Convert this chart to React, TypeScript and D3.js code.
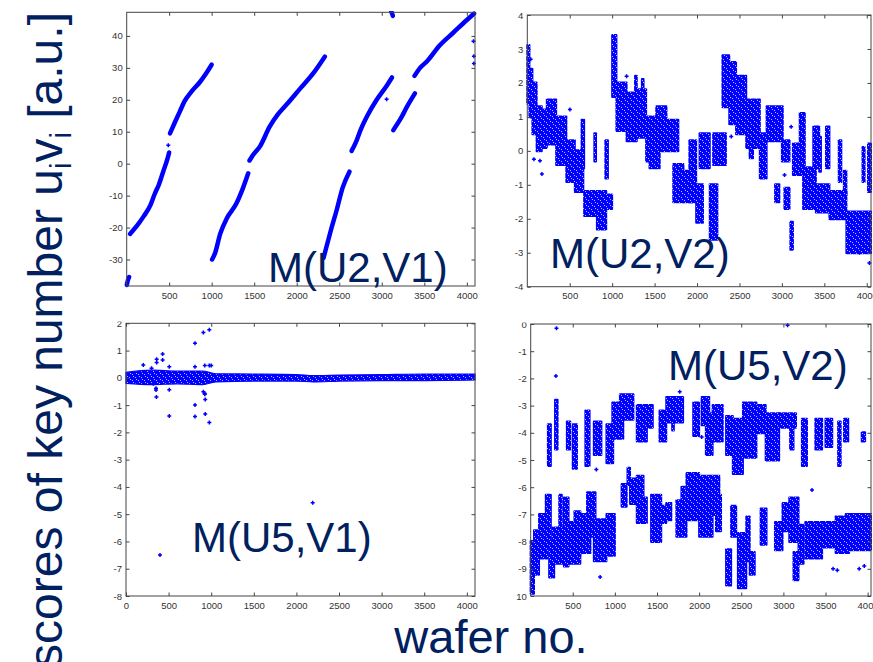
import React, { useEffect, useRef } from 'react';
import * as d3 from 'd3';

const W = 873;
const H = 662;
const NAVY = '#002060';
const BLUE = '#0000ff';
const AXIS = '#444444';
const TICK_TEXT = '#333333';

type Pt = [number, number];
// [xStart, xEnd, yLow, yHigh] : a column of densely packed wafer scores
type Streak = [number, number, number, number];

// ---------- M(U2,V1): ramps of scores vs wafer no. ----------
const u2v1Ramps: Pt[][] = [
  [[2, -38], [15, -36.5], [30, -35.5]],
  [[40, -22], [120, -19.5], [200, -16.5], [280, -13], [330, -9.5], [380, -6.5], [430, -2.5], [480, 1.5], [500, 3.5]],
  [[510, 9.5], [560, 12.5], [620, 16], [680, 19.5], [760, 22.5], [860, 25.5], [940, 28.5], [1000, 31]],
  [[1005, -30], [1040, -28], [1100, -22], [1180, -17], [1290, -12.5], [1370, -7.5], [1430, -3]],
  [[1445, 1], [1480, 2.5], [1570, 5.5], [1680, 11.5], [1780, 15.5], [1880, 18.5], [2040, 23.5], [2200, 28.5], [2330, 33.5]],
  [[2315, -29.5], [2360, -25], [2400, -21], [2470, -14.5], [2540, -7.5], [2620, -2.5]],
  [[2645, 4], [2700, 7], [2750, 10.5], [2830, 15], [2940, 20], [3060, 24.5], [3120, 27]],
  [[3110, 47.8], [3130, 46.3]],
  [[3135, 10.5], [3220, 14], [3300, 18], [3390, 22]],
  [[3385, 27.5], [3450, 30], [3530, 32], [3680, 37], [3840, 41], [4000, 45], [4085, 47]],
];
const u2v1Single: Pt[] = [[490, 5.8], [3057, 20.2], [4078, 38.3], [4083, 33.6], [4083, 31.4]];

// ---------- M(U2,V2) ----------
const u2v2Streaks: Streak[] = [
  [0, 25, 1.4, 3.1], [25, 60, 1.0, 2.4], [60, 110, 0.5, 2.0], [110, 170, 0.0, 1.3],
  [170, 230, 0.1, 1.2], [230, 340, 0.2, 1.5], [340, 460, -0.4, 1.0], [460, 560, -0.9, 0.3],
  [560, 660, -1.2, 0.0], [640, 670, -0.5, 0.9], [670, 820, -1.9, -1.2], [790, 810, -0.3, 0.5],
  [820, 930, -2.3, -1.2], [920, 950, -0.8, 0.3], [950, 1000, -1.7, -1.3],
  [1000, 1050, 1.6, 3.4], [1050, 1170, 0.6, 2.0], [1170, 1290, 0.3, 1.7], [1270, 1290, 1.4, 2.2],
  [1290, 1400, 0.4, 1.8], [1350, 1370, 1.5, 2.1], [1400, 1520, -0.3, 1.0], [1440, 1560, -0.5, 0.3],
  [1520, 1640, 0.0, 1.3], [1640, 1780, 0.0, 0.9], [1720, 1840, -1.5, -0.4], [1840, 1950, -1.5, -0.6],
  [1910, 1990, -1.5, 0.3], [1990, 2070, -2.1, -1.0], [2030, 2150, -0.5, 0.5], [2150, 2240, -2.6, -1.0],
  [2190, 2340, -0.4, 0.5],
  [2300, 2380, 1.3, 2.8], [2380, 2460, 0.8, 2.6], [2460, 2580, 0.5, 2.2], [2580, 2740, 0.1, 1.5],
  [2620, 2660, -0.2, 0.5], [2740, 2820, -0.8, 0.5], [2820, 3010, 0.3, 1.3], [2920, 2970, -1.5, -1.0],
  [3000, 3090, -0.3, 0.3], [3030, 3090, -1.7, -1.1], [3100, 3130, -2.9, -2.1], [3130, 3250, -0.7, 0.2],
  [3210, 3270, -0.5, 1.1], [3250, 3400, -1.7, -0.5], [3370, 3440, -0.5, 0.7], [3400, 3560, -1.8, -1.0],
  [3440, 3460, -0.6, 0.4], [3520, 3560, -0.5, 0.7], [3560, 3760, -2.0, -1.2], [3670, 3700, -0.9, 0.3],
  [3730, 3760, -1.3, -0.6], [3760, 4050, -3.0, -1.8], [3950, 3975, -0.9, 0.1], [4015, 4050, -1.2, 0.2],
];
const u2v2Single: Pt[] = [
  [40, 2.7], [78, -0.25], [149, -0.29], [172, -0.68], [502, 1.22], [1170, 2.2], [2500, 2.1],
  [2403, 0.42], [3109, 0.71], [3031, -0.71], [3913, -3.0], [4031, -3.3],
];

// ---------- M(U5,V1) ----------
const u5v1BandX = [0, 300, 600, 900, 1050, 1500, 2000, 2200, 2500, 3000, 3500, 4096];
const u5v1BandLo = [-0.2, -0.25, -0.22, -0.25, -0.15, -0.12, -0.12, -0.15, -0.12, -0.1, -0.1, -0.08];
const u5v1BandHi = [0.2, 0.28, 0.25, 0.25, 0.15, 0.14, 0.12, 0.08, 0.1, 0.12, 0.14, 0.14];
const u5v1Single: Pt[] = [
  [203, 0.47], [300, 0.35], [320, -0.22], [360, 0.68], [360, 0.56], [352, -0.38], [352, -0.45], [357, -0.7],
  [430, 0.87], [430, 0.65], [508, 0.41], [508, -0.44], [508, -1.4], [810, 1.27], [810, 0.41], [810, -1.0],
  [810, -1.42], [908, 1.66], [908, -0.51], [925, -0.57], [925, -0.6], [930, -0.79], [930, -1.33],
  [978, 1.76], [925, 0.45], [978, 0.45], [1000, 0.45], [978, -1.64], [399, -6.5], [2191, -4.58],
];

// ---------- M(U5,V2) ----------
const u5v2Streaks: Streak[] = [
  [205, 240, -5.2, -3.7], [290, 320, -4.6, -2.8], [430, 470, -4.6, -3.6], [500, 550, -5.3, -3.7],
  [650, 700, -5.2, -3.2], [750, 840, -4.8, -3.6], [900, 980, -5.1, -3.7], [970, 1100, -4.2, -2.9],
  [1060, 1220, -3.5, -2.6], [1260, 1380, -4.3, -3.0], [1380, 1450, -3.8, -3.0], [1530, 1610, -4.3, -3.2],
  [1610, 1810, -3.6, -2.7], [1680, 1700, -3.9, -3.0], [1930, 2000, -4.1, -2.9], [2030, 2120, -3.7, -2.7],
  [2080, 2160, -4.8, -3.3], [2160, 2280, -4.3, -3.0], [2320, 2400, -4.8, -3.4], [2400, 2520, -5.5, -3.5],
  [2520, 2680, -4.9, -2.9], [2680, 2790, -4.0, -3.0], [2790, 2950, -5.0, -3.3], [2950, 3150, -3.8, -3.3],
  [3080, 3120, -4.6, -3.4], [3220, 3280, -5.2, -3.5], [3380, 3460, -4.6, -3.5], [3500, 3580, -4.5, -3.5],
  [3650, 3680, -5.2, -3.6], [3720, 3770, -4.3, -3.5], [3930, 3970, -4.3, -4.0],
  [0, 40, -9.9, -8.0], [40, 100, -9.2, -7.6], [100, 200, -8.6, -7.0], [180, 240, -8.2, -6.3],
  [220, 280, -9.3, -8.0], [260, 380, -8.8, -7.5], [340, 370, -8.1, -6.3], [395, 450, -8.9, -6.4],
  [450, 590, -8.8, -7.3], [520, 590, -8.5, -6.9], [590, 710, -8.4, -7.0], [670, 770, -7.8, -6.2],
  [750, 900, -8.7, -7.2], [900, 1000, -8.5, -7.0], [1080, 1140, -6.7, -5.9], [1150, 1180, -5.9, -5.3],
  [1180, 1260, -6.6, -5.7], [1260, 1340, -7.3, -5.6], [1340, 1380, -7.3, -6.4], [1430, 1550, -8.0, -6.3],
  [1490, 1610, -7.3, -6.7], [1610, 1670, -7.2, -6.6], [1730, 1850, -7.8, -6.5], [1790, 1830, -7.7, -6.0],
  [1850, 2000, -7.2, -5.5], [2000, 2160, -7.8, -5.6], [2160, 2240, -7.0, -5.6], [2200, 2260, -7.6, -6.3],
  [2320, 2380, -9.6, -8.3], [2380, 2440, -7.8, -6.7], [2460, 2560, -9.7, -7.7], [2560, 2600, -8.7, -7.1],
  [2600, 2660, -9.2, -8.4], [2730, 2800, -8.1, -6.8], [2900, 2990, -8.3, -7.3], [2990, 3090, -7.6, -6.6],
  [3070, 3180, -8.0, -6.4], [3120, 3180, -9.4, -8.4], [3180, 3240, -8.8, -7.4], [3260, 3460, -8.6, -7.3],
  [3460, 3620, -8.2, -7.3], [3620, 3780, -8.4, -7.1], [3740, 4040, -8.3, -7.0],
];
const u5v2Single: Pt[] = [
  [307, -0.16], [300, -1.91], [3050, -0.05], [780, -5.35], [825, -9.3], [1770, -2.49], [3340, -6.1],
  [3590, -9.0], [3640, -9.05], [3900, -9.0], [3960, -8.9], [2030, -4.15], [1290, -6.7],
];

const xTicksNoZero = [500, 1000, 1500, 2000, 2500, 3000, 3500, 4000];
const xTicksWithZero = [0, ...xTicksNoZero];
const yTicksU2V1 = [-30, -20, -10, 0, 10, 20, 30, 40];
const yTicksU2V2 = [-4, -3, -2, -1, 0, 1, 2, 3, 4];
const yTicksU5V1 = [-8, -7, -6, -5, -4, -3, -2, -1, 0, 1, 2];
const yTicksU5V2 = [-10, -9, -8, -7, -6, -5, -4, -3, -2, -1, 0];

interface Panel {
  id: string;
  label: string;
  labelPos: Pt;
  xDomain: Pt;
  xRange: Pt;
  yDomain: Pt;
  yRange: Pt;
  xTicks: number[];
  yTicks: number[];
  clip: [number, number, number, number];
  ramps?: Pt[][];
  streaks?: Streak[];
  band?: { x: number[]; lo: number[]; hi: number[] };
  singles: Pt[];
}

const panels: Panel[] = [
  {
    id: 'u2v1', label: 'M(U2,V1)', labelPos: [268, 282],
    xDomain: [1, 4096], xRange: [126.7, 475], yDomain: [-38.3, 47.4], yRange: [286, 12.3],
    xTicks: xTicksNoZero, yTicks: yTicksU2V1, clip: [90, 11, 395, 300],
    ramps: u2v1Ramps, singles: u2v1Single,
  },
  {
    id: 'u2v2', label: 'M(U2,V2)', labelPos: [550, 268],
    xDomain: [0, 4050], xRange: [527.3, 871], yDomain: [-4, 4], yRange: [286.7, 15],
    xTicks: xTicksNoZero, yTicks: yTicksU2V2, clip: [485, 11.5, 400, 300],
    streaks: u2v2Streaks, singles: u2v2Single,
  },
  {
    id: 'u5v1', label: 'M(U5,V1)', labelPos: [192, 552],
    xDomain: [0, 4096], xRange: [126, 475], yDomain: [-8, 2], yRange: [596, 323.3],
    xTicks: xTicksWithZero, yTicks: yTicksU5V1, clip: [90, 321.5, 395, 300],
    band: { x: u5v1BandX, lo: u5v1BandLo, hi: u5v1BandHi }, singles: u5v1Single,
  },
  {
    id: 'u5v2', label: 'M(U5,V2)', labelPos: [668, 380],
    xDomain: [1, 4040], xRange: [530.7, 871], yDomain: [-10, 0], yRange: [596, 324],
    xTicks: xTicksNoZero, yTicks: yTicksU5V2, clip: [516, 322.5, 370, 300],
    streaks: u5v2Streaks, singles: u5v2Single,
  },
];

const FONT = '"Liberation Sans", Arial, sans-serif';

export default function App() {
  const ref = useRef<SVGSVGElement>(null);

  useEffect(() => {
    const svg = d3.select(ref.current);
    svg.selectAll('*').remove();
    const defs = svg.append('defs');

    // fill texture of tightly packed markers: solid blue with sparse light speckles
    const pat = defs.append('pattern')
      .attr('id', 'packed').attr('width', 6).attr('height', 6)
      .attr('patternUnits', 'userSpaceOnUse');
    pat.append('rect').attr('width', 6).attr('height', 6).attr('fill', BLUE);
    [[0, 2], [3, 5], [4, 1], [1, 4]].forEach(([px, py]) => {
      pat.append('rect').attr('x', px).attr('y', py).attr('width', 1).attr('height', 1)
        .attr('fill', '#b8b8ff');
    });

    panels.forEach((p) => {
      const x = d3.scaleLinear().domain(p.xDomain).range(p.xRange);
      const y = d3.scaleLinear().domain(p.yDomain).range(p.yRange);
      const [x0, x1] = p.xRange;
      const [yb, yt] = p.yRange;

      defs.append('clipPath').attr('id', `clip-${p.id}`)
        .append('rect').attr('x', p.clip[0]).attr('y', p.clip[1])
        .attr('width', p.clip[2]).attr('height', p.clip[3]);
      defs.append('clipPath').attr('id', `plot-${p.id}`)
        .append('rect').attr('x', x0 - 3).attr('y', yt - 4)
        .attr('width', x1 - x0 + 6).attr('height', yb - yt + 7);

      const g = svg.append('g').attr('clip-path', `url(#clip-${p.id})`);
      const data = g.append('g').attr('clip-path', `url(#plot-${p.id})`);

      if (p.band) {
        const band = p.band;
        const area = d3.area<number>()
          .x((_, i) => x(band.x[i]))
          .y0((_, i) => y(band.lo[i]))
          .y1((_, i) => y(band.hi[i]))
          .curve(d3.curveMonotoneX);
        data.append('path').datum(band.x).attr('d', area)
          .attr('fill', 'url(#packed)').attr('stroke', BLUE).attr('stroke-width', 1.2);
      }

      if (p.streaks) {
        data.selectAll('rect.streak').data(p.streaks).join('rect')
          .attr('class', 'streak')
          .attr('x', (d) => x(d[0]) - 1)
          .attr('width', (d) => Math.max(x(d[1]) - x(d[0]) + 2, 3))
          .attr('y', (d) => y(d[3]) - 1.5)
          .attr('height', (d) => y(d[2]) - y(d[3]) + 3)
          .attr('rx', 1)
          .attr('fill', 'url(#packed)');
      }

      if (p.ramps) {
        const line = d3.line<Pt>().x((d) => x(d[0])).y((d) => y(d[1])).curve(d3.curveMonotoneX);
        data.selectAll('path.ramp').data(p.ramps).join('path')
          .attr('class', 'ramp')
          .attr('d', line)
          .attr('fill', 'none').attr('stroke', BLUE).attr('stroke-width', 4.5)
          .attr('stroke-linecap', 'round').attr('stroke-linejoin', 'round');
      }

      data.selectAll('path.single').data(p.singles).join('path')
        .attr('class', 'single')
        .attr('d', (d) => {
          const cx = x(d[0]);
          const cy = y(d[1]);
          return `M${cx - 2},${cy}H${cx + 2}M${cx},${cy - 2}V${cy + 2}`;
        })
        .attr('stroke', BLUE).attr('stroke-width', 1.5);

      // axes box with inward ticks on all four sides
      const fmt = (d: d3.NumberValue) => String(+d);
      const styleAxis = (ax: d3.Selection<SVGGElement, unknown, null, undefined>) => {
        ax.select('.domain').remove();
        ax.selectAll('line').attr('stroke', AXIS);
        ax.selectAll('text').attr('fill', TICK_TEXT).attr('font-size', 9.5).attr('font-family', FONT);
      };
      const bottom = g.append('g').attr('transform', `translate(0,${yb})`)
        .call(d3.axisBottom(x).tickValues(p.xTicks).tickSizeInner(-3.5).tickSizeOuter(0).tickPadding(6).tickFormat(fmt));
      styleAxis(bottom);
      const top = g.append('g').attr('transform', `translate(0,${yt})`)
        .call(d3.axisTop(x).tickValues(p.xTicks).tickSizeInner(-3.5).tickSizeOuter(0).tickFormat(() => ''));
      styleAxis(top);
      const left = g.append('g').attr('transform', `translate(${x0},0)`)
        .call(d3.axisLeft(y).tickValues(p.yTicks).tickSizeInner(-3.5).tickSizeOuter(0).tickPadding(4).tickFormat(fmt));
      styleAxis(left);
      const right = g.append('g').attr('transform', `translate(${x1},0)`)
        .call(d3.axisRight(y).tickValues(p.yTicks).tickSizeInner(-3.5).tickSizeOuter(0).tickFormat(() => ''));
      styleAxis(right);
      g.append('rect').attr('x', x0).attr('y', yt).attr('width', x1 - x0).attr('height', yb - yt)
        .attr('fill', 'none').attr('stroke', AXIS).attr('stroke-width', 1);

      svg.append('text')
        .attr('x', p.labelPos[0]).attr('y', p.labelPos[1])
        .attr('font-family', FONT).attr('font-size', 42).attr('fill', NAVY)
        .text(p.label);
    });

    // shared axis titles
    svg.append('text')
      .attr('x', 491).attr('y', 653).attr('text-anchor', 'middle')
      .attr('font-family', FONT).attr('font-size', 47).attr('fill', NAVY)
      .text('wafer no.');

    const yl = svg.append('text')
      .attr('transform', 'translate(62,12) rotate(-90)')
      .attr('text-anchor', 'end')
      .attr('font-family', FONT).attr('font-size', 48).attr('fill', NAVY);
    yl.append('tspan').text('scores of key number u');
    yl.append('tspan').attr('font-size', 29).attr('dy', 9).text('i');
    yl.append('tspan').attr('dy', -9).text('v');
    yl.append('tspan').attr('font-size', 29).attr('dy', 9).text('i');
    yl.append('tspan').attr('dy', -9).text(' [a.u.]');
  }, []);

  return (
    <svg
      ref={ref}
      width={W}
      height={H}
      style={{ position: 'absolute', left: 0, top: 0, background: '#ffffff' }}
    />
  );
}
